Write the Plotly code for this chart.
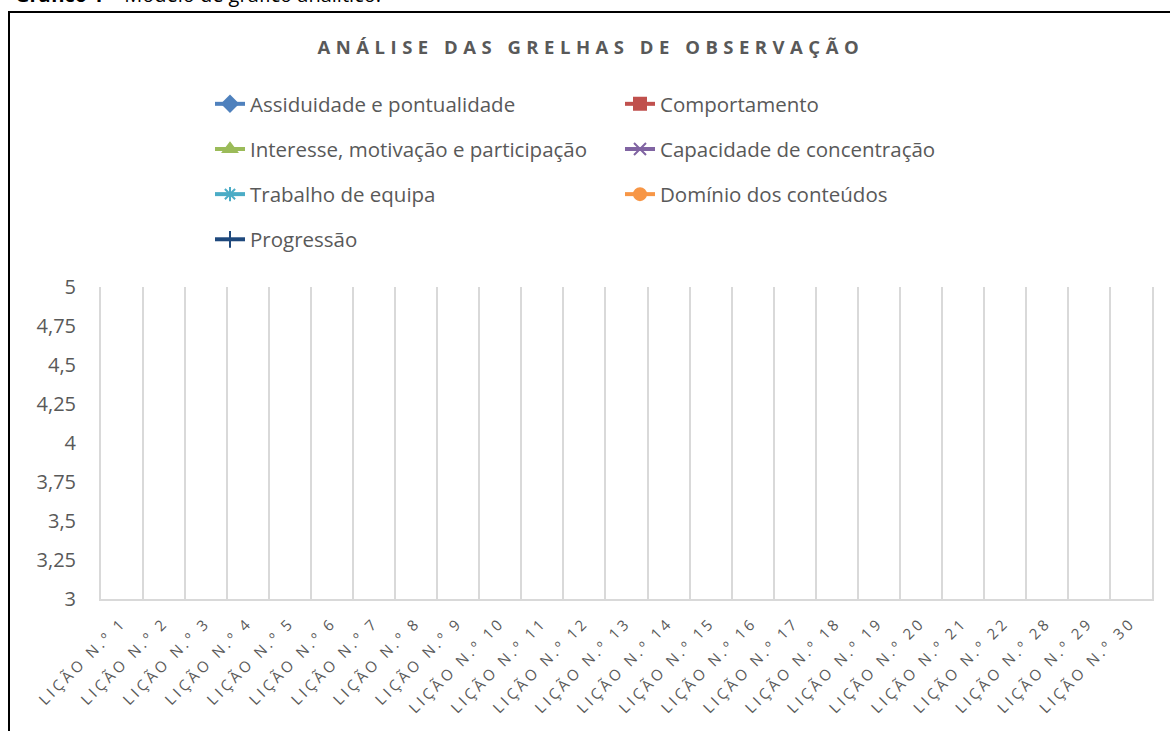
import plotly.graph_objects as go

categories = ["Lição N.º 1", "Lição N.º 2", "Lição N.º 3", "Lição N.º 4", "Lição N.º 5",
              "Lição N.º 6", "Lição N.º 7", "Lição N.º 8", "Lição N.º 9", "Lição N.º 10",
              "Lição N.º 11", "Lição N.º 12", "Lição N.º 13", "Lição N.º 14", "Lição N.º 15",
              "Lição N.º 16", "Lição N.º 17", "Lição N.º 18", "Lição N.º 19", "Lição N.º 20",
              "Lição N.º 21", "Lição N.º 22", "Lição N.º 28", "Lição N.º 29", "Lição N.º 30"]

# The reference chart is an empty template: no values recorded yet.
assiduidade = [None] * len(categories)
comportamento = [None] * len(categories)
interesse = [None] * len(categories)
concentracao = [None] * len(categories)
trabalho_equipa = [None] * len(categories)
dominio = [None] * len(categories)
progressao = [None] * len(categories)

series_names = ["Assiduidade e pontualidade", "Comportamento",
                "Interesse, motivação e participação", "Capacidade de concentração",
                "Trabalho de equipa", "Domínio dos conteúdos", "Progressão"]
series_values = [assiduidade, comportamento, interesse, concentracao,
                 trabalho_equipa, dominio, progressao]
colors = ["#4F81BD", "#C0504D", "#9BBB59", "#8064A2", "#4BACC6", "#F79646", "#1F497D"]
symbols = ["diamond", "square", "triangle-up", "x-thin-open", "asterisk-open",
           "circle", "cross-thin-open"]
legend_ids = ["legend", "legend2", "legend", "legend2", "legend", "legend2", "legend"]

y_ticks = [3, 3.25, 3.5, 3.75, 4, 4.25, 4.5, 4.75, 5]

W, H = 1170, 731
L, R, T, B = 101, 18, 287, 132
pw, ph = W - L - R, H - T - B

def px_x(x):
    return (x - L) / pw

def px_y(y):
    return 1 + (T - y) / ph

fig = go.Figure()
for i, (name, vals) in enumerate(zip(series_names, series_values)):
    fig.add_trace(go.Scatter(
        x=categories, y=vals, name=name, mode="lines+markers",
        line=dict(color=colors[i], width=4),
        marker=dict(symbol=symbols[i], size=12, color=colors[i],
                    line=dict(color=colors[i], width=2)),
        legend=legend_ids[i], legendgroup=name, showlegend=True,
    ))

GRAY = "#595959"
legend_common = dict(font=dict(family="Open Sans", size=20.5, color=GRAY),
                     bgcolor="rgba(0,0,0,0)", borderwidth=0,
                     tracegroupgap=15.5, orientation="v",
                     xanchor="left", yanchor="top")

tick_text = ['<span style="letter-spacing:3.3px">' + c.upper() + '</span>' for c in categories]

fig.update_layout(
    width=W, height=H,
    margin=dict(l=L, r=R, t=T, b=B),
    paper_bgcolor="white", plot_bgcolor="white",
    separators=",.",
    font=dict(family="Open Sans", color=GRAY),
    title=dict(text='<b><span style="letter-spacing:5.5px">ANÁLISE DAS GRELHAS DE OBSERVAÇÃO</span></b>',
               x=0.505, xref="container", xanchor="center",
               y=1 - 48 / H, yref="container", yanchor="middle",
               font=dict(family="Open Sans", size=18.5, color=GRAY)),
    legend=dict(x=px_x(210), y=px_y(84), **legend_common),
    legend2=dict(x=px_x(620), y=px_y(84), **legend_common),
    xaxis=dict(type="category", categoryorder="array", categoryarray=categories,
               tickvals=categories, ticktext=tick_text,
               range=[-0.5, len(categories) - 0.5], tickson="boundaries",
               showgrid=True, gridcolor="#D9D9D9", gridwidth=2,
               showline=True, linecolor="#D9D9D9", linewidth=2,
               ticks="", ticklabelstandoff=7, tickangle=-45,
               tickfont=dict(family="Open Sans", size=15, color=GRAY),
               zeroline=False, fixedrange=True),
    yaxis=dict(range=[3, 5], tickvals=y_ticks, showgrid=False, zeroline=False,
               showline=True, mirror=True, linecolor="#D9D9D9", linewidth=2,
               ticks="outside", ticklen=19, tickcolor="rgba(0,0,0,0)",
               tickfont=dict(family="Open Sans", size=20, color=GRAY), fixedrange=True),
    shapes=[dict(type="rect", xref="paper", yref="paper",
                 x0=px_x(9), x1=px_x(1185), y0=px_y(12), y1=px_y(745),
                 line=dict(color="black", width=2), fillcolor="rgba(0,0,0,0)", layer="below")],
    annotations=[dict(text="<b>Gráfico 1</b> – Modelo de gráfico analítico.",
                      xref="paper", yref="paper", x=px_x(13), y=px_y(10),
                      xanchor="left", yanchor="bottom", showarrow=False,
                      font=dict(family="Open Sans", size=20, color="black"))],
)

fig.write_html("out.html", config={"displayModeBar": False},
               post_script="document.body.style.margin='0';")
